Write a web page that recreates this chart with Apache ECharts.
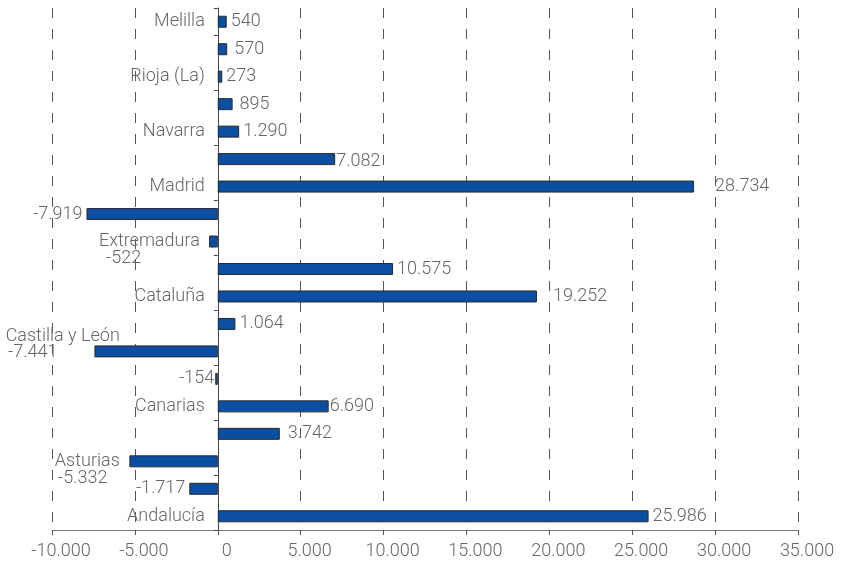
<!DOCTYPE html>
<html>
<head>
<meta charset="utf-8">
<script src="https://cdn.jsdelivr.net/npm/echarts@6/dist/echarts.min.js"></script>
<style>
  html, body { margin: 0; padding: 0; background: #fff; }
  #chart { width: 842px; height: 569px; }
</style>
</head>
<body>
<div id="chart"></div>
<script>
// 类目（自下而上）
var categories = ['Andalucía', 'Aragón', 'Asturias', 'Baleares', 'Canarias', 'Cantabria',
	'Castilla y León', 'Castilla-La Mancha', 'Cataluña', 'C. Valenciana', 'Extremadura',
	'Galicia', 'Madrid', 'Murcia', 'Navarra', 'País Vasco', 'Rioja (La)', 'Ceuta', 'Melilla'];
// 数值
var values = [25986, -1717, -5332, 3742, 6690, -154, -7441, 1064, 19252, 10575, -522,
	-7919, 28734, 7082, 1290, 895, 273, 570, 540];
// x轴刻度
var xMin = -10000, xMax = 35000, xStep = 5000;

// 数值标签的微调（像素）
var labelShift = {
	1: [0, 0], 2: [-18, 17], 3: [4, 0], 4: [-3, 0], 5: [3, 0], 6: [-33, 1],
	8: [12, 0], 10: [-64, 17], 12: [17, 0], 13: [-3, 2], 15: [3, 0], 17: [3, 0]
};
// 类目标签的微调
var catStyle = {
	'Castilla y León': 'shiftUp',
	'Asturias': 'shiftLeft',
	'Extremadura': 'small'
};

function fmt(v) {
	var s = Math.abs(v).toString().replace(/\B(?=(\d{3})+(?!\d))/g, '.');
	return (v < 0 ? '-' : '') + s;
}

var font = 'Roboto';
var textColor = '#666';
var gridLeft = 52, gridRight = 44;
// y轴放在0的位置
var plotW = 842 - gridLeft - gridRight;
var zeroOffset = -plotW * (0 - xMin) / (xMax - xMin);

var seriesData = values.map(function(v, i) {
	var sh = labelShift[i] || [0, 0];
	return {
		value: v,
		label: { position: v < 0 ? 'left' : 'right', offset: sh }
	};
});

function richStyle(pad) {
	return { fontFamily: font, fontWeight: 300, fontSize: 18, color: textColor, padding: pad };
}

var myChart = echarts.init(document.getElementById('chart'));
var option = {
	animation: false,
	grid: {
		left: gridLeft, right: gridRight, top: 8, bottom: 39,
		containLabel: false,
		outerBoundsMode: 'none'
	},
	xAxis: {
		type: 'value',
		min: xMin,
		max: xMax,
		interval: xStep,
		axisLine: { show: true, lineStyle: { color: '#7a7a7a', width: 1 } },
		axisTick: { show: true, length: 5, lineStyle: { color: '#555' } },
		axisLabel: {
			margin: 12,
			padding: [0, 0, 0, 18],
			fontFamily: font, fontWeight: 300, fontSize: 18, color: textColor,
			formatter: function(v) { return fmt(v); }
		},
		splitLine: {
			show: true,
			lineStyle: { color: '#555', width: 1, type: [10, 11] }
		}
	},
	yAxis: {
		type: 'category',
		data: categories,
		offset: zeroOffset,
		axisLine: { show: true, onZero: false, lineStyle: { color: '#444', width: 1 } },
		axisTick: { show: true, length: 4, lineStyle: { color: '#444' } },
		axisLabel: {
			interval: 1,
			margin: 13,
			fontFamily: font, fontWeight: 300, fontSize: 18, color: textColor,
			formatter: function(v) {
				var k = catStyle[v];
				return k ? '{' + k + '|' + v + '}' : v;
			},
			rich: {
				shiftUp: richStyle([0, 85, 30, 0]),
				shiftLeft: richStyle([0, 85, 0, 0]),
				small: richStyle([0, 5, 0, 0])
			}
		},
		splitLine: { show: false }
	},
	series: [{
		type: 'bar',
		data: seriesData,
		barWidth: 12,
		itemStyle: { color: '#0b4fa3', borderColor: '#2a2a2a', borderWidth: 1 },
		label: {
			show: true,
			distance: 4,
			fontFamily: font, fontWeight: 300, fontSize: 18, color: textColor,
			formatter: function(p) { return fmt(p.value); }
		}
	}]
};
myChart.setOption(option);
window.addEventListener('resize', function() {
	myChart.resize();
});
</script>
</body>
</html>
